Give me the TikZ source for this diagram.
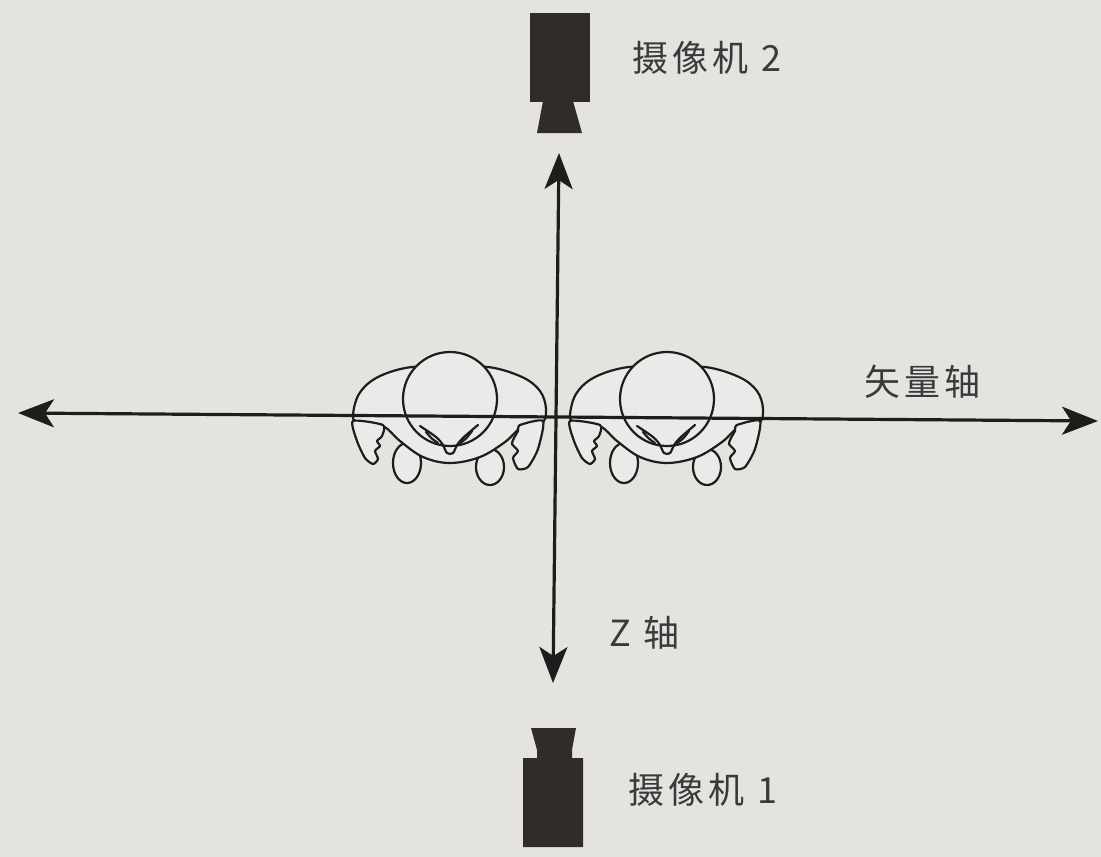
\documentclass[tikz,border=0pt]{standalone}
\usepackage{fontspec}
\setmainfont{Noto Sans CJK SC}[LetterSpace=12]
\usetikzlibrary{arrows.meta}
\definecolor{paper}{RGB}{228,227,224}
\definecolor{ink}{RGB}{30,29,28}
\definecolor{camfill}{RGB}{48,44,41}
\definecolor{skin}{RGB}{234,234,233}
\definecolor{txt}{RGB}{58,58,58}
\tikzstyle{axis} = [line width=3.2pt, draw=ink, {Stealth[length=36pt,width=28pt,inset=9pt]}-{Stealth[length=36pt,width=28pt,inset=9pt]}]
\tikzstyle{outline} = [line width=2.2pt, draw=ink, fill=skin, line join=round]
\tikzstyle{stroke} = [line width=2.2pt, draw=ink, line cap=round]
\tikzstyle{tag} = [anchor=west, inner sep=0pt, text=txt, font=\fontsize{36}{40}\selectfont]
\tikzstyle{cam} = [fill=camfill, draw=none]

% a person seen from above, origin at the centre of the head
\tikzset{
  person/.pic={
    % feet
    \draw[outline] (-43,64) ellipse [x radius=14pt, y radius=20pt];
    \draw[outline] (40,68) ellipse [x radius=14pt, y radius=18pt];
    % shoulders and back
    \draw[outline] plot[smooth cycle, tension=0.6] coordinates {
      (0,-30) (-38,-32) (-72,-22) (-91,-5) (-97,18) (-90,23) (-67,27)
      (-50,42) (-27,58) (0,64) (30,58) (55,43) (72,28) (92,24) (96,10)
      (90,-8) (72,-22) (38,-32)};
    % hands
    \draw[outline] plot[smooth cycle, tension=0.4] coordinates {
      (-97,22) (-93,42) (-85,59) (-77,65) (-72,60) (-75,52) (-70,47)
      (-73,42) (-68,37) (-67,26)};
    \draw[outline] plot[smooth cycle, tension=0.4] coordinates {
      (93,22) (88,50) (78,68) (68,70) (63,59) (68,52) (62,45) (64,39)
      (68,32) (70,26)};
    % head
    \draw[outline] (0,0) circle [radius=47pt];
    % face
    \draw[stroke] plot[smooth, tension=0.6] coordinates {
      (-30,27) (-14,38) (-7,46) (-3,54) (3,54) (7,46) (14,38) (28,26)};
    \draw[stroke] (-24,33) .. controls (-18,40) .. (-12,44);
    \draw[stroke] (22,32) .. controls (16,40) .. (10,44);
  }
}

\begin{document}
\begin{tikzpicture}[x=1pt, y=-1pt]
  \useasboundingbox[fill=paper] (0,0) rectangle (1101,857);

  % the two people back to back
  \pic (left) at (450,399) {person};
  \pic (right) at (667,399) {person};

  % axes
  \coordinate (west) at (18,413);
  \coordinate (east) at (1098,421);
  \coordinate (north) at (559,153);
  \coordinate (south) at (553,683);
  \draw[axis] (west) -- (east);
  \draw[axis] (north) -- (south);

  % camera 2, lens pointing down
  \fill[cam] (530,13) rectangle (590,102);
  \fill[cam] (543,101) -- (573,101) -- (582,133) -- (537,133) -- cycle;
  % camera 1, lens pointing up
  \fill[cam] (531,728) -- (576,728) -- (572,750) -- (572,758) -- (583,758)
    -- (583,847) -- (523,847) -- (523,758) -- (537,758) -- (537,750) -- cycle;

  \node[tag] (cam2) at (632,58) {摄像机 2};
  \node[tag] (cam1) at (628,790) {摄像机 1};
  \node[tag] (vector) at (864,382) {矢量轴};
  \node[tag] (zaxis) at (609,633) {Z 轴};
\end{tikzpicture}
\end{document}
